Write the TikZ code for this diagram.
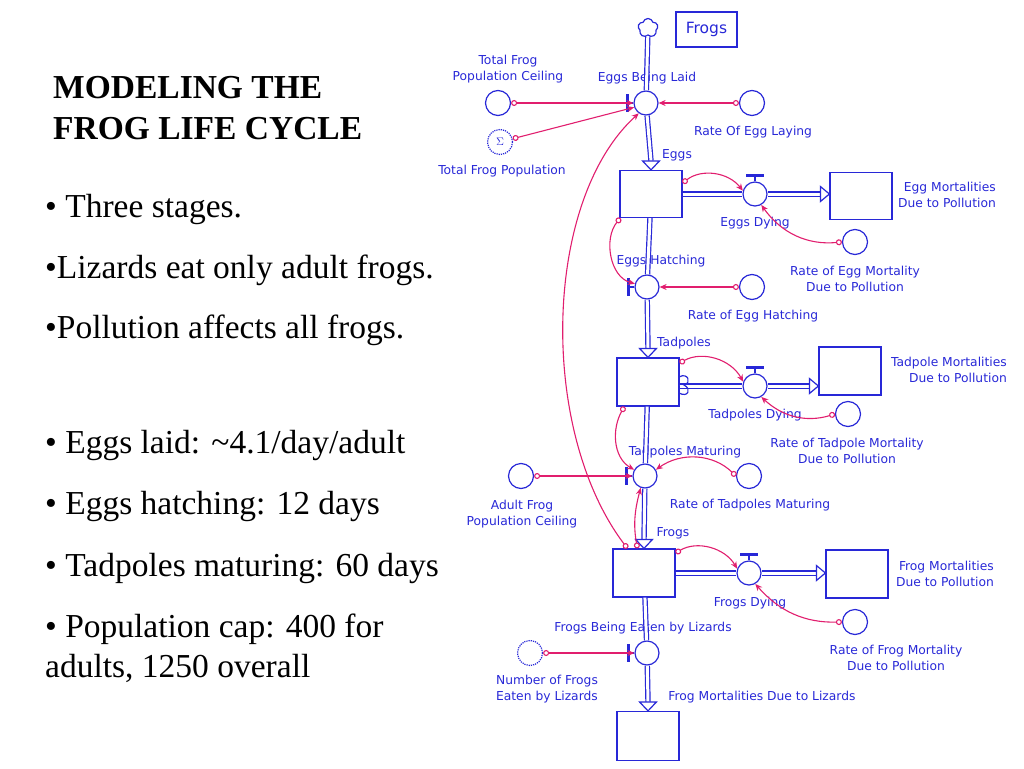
\documentclass[tikz,border=0pt]{standalone}
\usepackage{fontspec}
\setmainfont{Liberation Serif}
\newfontfamily\diafont{DejaVu Sans}
\usepackage{tikz}
\usetikzlibrary{arrows.meta,shapes.symbols}
\definecolor{flowblue}{RGB}{40,40,215}
\definecolor{linkpink}{RGB}{225,30,110}

\begin{document}
\begin{tikzpicture}
		[
			x=1pt, y=-1pt,
			stock/.style = {rectangle, draw=flowblue, line width=1.2pt, minimum width=62pt, minimum height=47pt, inner sep=0pt},
			valve/.style = {circle, draw=flowblue, line width=1.2pt, minimum size=24pt, inner sep=0pt},
			aux/.style = {circle, draw=flowblue, line width=1.2pt, minimum size=25pt, inner sep=0pt},
			ghost/.style = {aux, densely dotted},
			lbl/.style = {text=flowblue, font=\diafont\fontsize{12.3}{16.5}\selectfont, align=center, inner sep=0pt},
			rlbl/.style = {lbl, align=right, anchor=east},
			pipe/.style = {draw=flowblue, line width=1.2pt, double=white, double distance=3pt},
			head/.style = {draw=flowblue, line width=1.2pt, fill=white},
			handle/.style = {draw=flowblue, line width=2.6pt},
			conn/.style = {draw=linkpink, line width=1.1pt, {Circle[open,length=6pt,width=6pt]}-{Stealth[length=7pt,width=6pt]}},
			slide/.style = {font=\fontsize{33.5}{40}\selectfont, anchor=base west, inner sep=0pt},
		]
		\useasboundingbox (0,0) rectangle (1024,768);

		% slide text
		\node[slide, font=\bfseries\fontsize{33.5}{40}\selectfont] (title1) at ( 53,  98) {MODELING THE};
		\node[slide, font=\bfseries\fontsize{33.5}{40}\selectfont] (title2) at ( 53, 139) {FROG LIFE CYCLE};
		\node[slide] (pt1) at ( 45, 217) {\textbullet\ Three stages.};
		\node[slide] (pt2) at ( 45, 278) {\textbullet Lizards eat only adult frogs.};
		\node[slide] (pt3) at ( 45, 338) {\textbullet Pollution affects all frogs.};
		\node[slide] (pt4) at ( 45, 453) {\textbullet\ Eggs laid: \textasciitilde 4.1/day/adult};
		\node[slide] (pt5) at ( 45, 514) {\textbullet\ Eggs hatching: 12 days};
		\node[slide] (pt6) at ( 45, 576) {\textbullet\ Tadpoles maturing: 60 days};
		\node[slide] (pt7) at ( 45, 637) {\textbullet\ Population cap: 400 for};
		\node[slide] (pt8) at ( 45, 677) {adults, 1250 overall};

		% model name and source
		\node[rectangle, draw=flowblue, line width=1.2pt, minimum width=61pt, minimum height=35pt, text=flowblue, font=\diafont\fontsize{15.5}{18}\selectfont] (modelname) at ( 706.5, 29.5 ) {Frogs};
		\node[cloud, cloud puffs=5, draw=flowblue, line width=1.2pt, minimum width=20pt, minimum height=19pt, inner sep=0pt] (src) at ( 648, 28 ) {};

		% stocks
		\node[stock] (eggs) 		at ( 651, 194 ) {};
		\node[stock] (eggmort) 		at ( 861, 196 ) {};
		\node[stock, minimum height=48pt] (tad) 		at ( 648, 382 ) {};
		\node[stock, minimum height=48pt] (tadmort) 	at ( 850, 371 ) {};
		\node[stock, minimum height=48pt] (frogs) 		at ( 644, 573 ) {};
		\node[stock, minimum height=48pt] (frogmort) 	at ( 857, 574 ) {};
		\node[stock, minimum height=49pt] (lizmort) 	at ( 648, 736 ) {};

		% flows
		\node[valve] (lay) 		at ( 646, 103 ) {};
		\node[valve] (eggdie) 	at ( 755, 194 ) {};
		\node[valve] (hatch) 	at ( 647, 287 ) {};
		\node[valve] (taddie) 	at ( 755, 386 ) {};
		\node[valve] (mat) 		at ( 645, 476 ) {};
		\node[valve] (frogdie) 	at ( 749, 573 ) {};
		\node[valve] (eat) 		at ( 647, 653 ) {};

		% converters
		\node[aux] (tfpc) 		at ( 498, 103 ) {};
		\node[ghost, text=flowblue, font=\diafont\fontsize{11}{11}\selectfont] (tfp) 	at ( 500, 142 ) {$\Sigma$};
		\node[aux] (rel) 		at ( 752, 103 ) {};
		\node[aux] (regm) 		at ( 855, 242 ) {};
		\node[aux] (reh) 		at ( 752, 287 ) {};
		\node[aux] (rtm) 		at ( 848, 414 ) {};
		\node[aux] (afpc) 		at ( 521, 476 ) {};
		\node[aux] (rtmat) 		at ( 749, 476 ) {};
		\node[aux] (rfm) 		at ( 855, 622 ) {};
		\node[ghost] (nfe) 		at ( 530, 653 ) {};

		% labels
		\node[lbl] (layl) 		at ( 647,  78 ) {Eggs Being Laid};
		\node[lbl] (tfpcl) 		at ( 508,  69 ) {Total Frog\\Population Ceiling};
		\node[lbl] (tfpl) 		at ( 502, 171 ) {Total Frog Population};
		\node[lbl] (rell) 		at ( 753, 132 ) {Rate Of Egg Laying};
		\node[lbl] (eggsl) 		at ( 677, 155 ) {Eggs};
		\node[lbl] (eggdiel) 	at ( 755, 223 ) {Eggs Dying};
		\node[rlbl] (eggmortl) 	at ( 996, 195 ) {Egg Mortalities\\Due to Pollution};
		\node[lbl] (regml) 		at ( 855, 279 ) {Rate of Egg Mortality\\Due to Pollution};
		\node[lbl] (hatchl) 	at ( 661, 261 ) {Eggs Hatching};
		\node[lbl] (rehl) 		at ( 753, 316 ) {Rate of Egg Hatching};
		\node[lbl] (tadl) 		at ( 684, 343 ) {Tadpoles};
		\node[lbl] (taddiel) 	at ( 755, 415 ) {Tadpoles Dying};
		\node[rlbl] (tadmortl) 	at (1007, 370 ) {Tadpole Mortalities\\Due to Pollution};
		\node[lbl] (rtml) 		at ( 847, 451 ) {Rate of Tadpole Mortality\\Due to Pollution};
		\node[lbl] (matl) 		at ( 685, 452 ) {Tadpoles Maturing};
		\node[lbl] (rtmatl) 	at ( 750, 505 ) {Rate of Tadpoles Maturing};
		\node[lbl] (afpcl) 		at ( 522, 514 ) {Adult Frog\\Population Ceiling};
		\node[lbl] (frogsl) 	at ( 673, 533 ) {Frogs};
		\node[lbl] (frogdiel) 	at ( 750, 603 ) {Frogs Dying};
		\node[rlbl] (frogmortl) at ( 994, 574 ) {Frog Mortalities\\Due to Pollution};
		\node[lbl] (rfml) 		at ( 896, 658 ) {Rate of Frog Mortality\\Due to Pollution};
		\node[lbl] (eatl) 		at ( 643, 628 ) {Frogs Being Eaten by Lizards};
		\node[lbl, align=left] (nfel) 	at ( 547, 689 ) {Number of Frogs\\Eaten by Lizards};
		\node[lbl] (lizmortl) 	at ( 762, 697 ) {Frog Mortalities Due to Lizards};

		% pipes
		\draw[pipe] (src) -- (lay);
		\foreach \from/\to in {lay/eggs,hatch/tad,mat/frogs,eat/lizmort}
		{
		\draw[pipe] (\from) -- ([yshift=9pt]\to.north);
		\draw[head] (\to.north) -- ++(-8.5,-9) -- ++(17,0) -- cycle;
		}
		\foreach \from/\to in {eggs/hatch,tad/mat,frogs/eat}
		\draw[pipe] (\from) -- (\to);

		\coordinate (eggin) at (eggmort.west |- eggdie);
		\coordinate (tadin) at (tadmort.west |- taddie);
		\coordinate (frogin) at (frogmort.west |- frogdie);
		\draw[pipe] (eggs.east |- eggdie) -- (eggdie);
		\draw[pipe] (tad.east |- taddie) -- (taddie);
		\draw[pipe] (frogs.east |- frogdie) -- (frogdie);
		\foreach \from/\to in {eggdie/eggin,taddie/tadin,frogdie/frogin}
		{
		\draw[pipe] (\from) -- ([xshift=-9pt]\to);
		\draw[head] (\to) -- ++(-9,-7.5) -- ++(0,15) -- cycle;
		}

		% valve handles
		\foreach \v in {eggdie,taddie,frogdie}
		{
		\draw[draw=flowblue, line width=1.2pt] (\v.north) -- ++(0,-5);
		\draw[handle] ([xshift=-9pt,yshift=6pt]\v.north) -- ++(18,0);
		}
		\foreach \v in {lay,hatch,mat,eat}
		{
		\draw[draw=flowblue, line width=1.2pt] (\v.west) -- ++(-5,0);
		\draw[handle] ([xshift=-6pt,yshift=9pt]\v.west) -- ++(0,18);
		}

		% overflow loop on tadpoles
		\draw[draw=flowblue, line width=1.2pt] (679,377) .. controls (688,372) and (692,383) .. (684,385) .. controls (692,389) and (688,398) .. (679,393);

		% connectors
		\foreach \from/\to in {tfpc/lay,rel/lay,reh/hatch,afpc/mat,nfe/eat}
		\draw[conn] (\from) -- (\to);
		\draw[conn] (tfp) -- (lay.200);
		\draw[conn] ([yshift=11pt]eggs.east) to[bend left=45] (eggdie.165);
		\draw[conn] (regm.west) to[bend left=30] (eggdie.-60);
		\draw[conn] ([xshift=1pt]eggs.south west) to[out=230, in=165] (hatch.165);
		\draw[conn] ([yshift=19pt]tad.east) to[bend left=45] (taddie.160);
		\draw[conn] (rtm.west) to[bend left=30] (taddie.-60);
		\draw[conn] ([xshift=8pt]tad.south west) to[out=240, in=150] (mat.150);
		\draw[conn] (rtmat.west) to[bend right=40] (mat.30);
		\draw[conn] ([xshift=25pt]frogs.north west) to[out=100, in=255] (mat.250);
		\draw[conn] ([xshift=15pt]frogs.north west) .. controls (538,430) and (543,200) .. (lay.235);
		\draw[conn] ([yshift=20pt]frogs.east) to[bend left=45] (frogdie.160);
		\draw[conn] (rfm.west) to[bend left=25] (frogdie.-60);

\end{tikzpicture}
\end{document}
